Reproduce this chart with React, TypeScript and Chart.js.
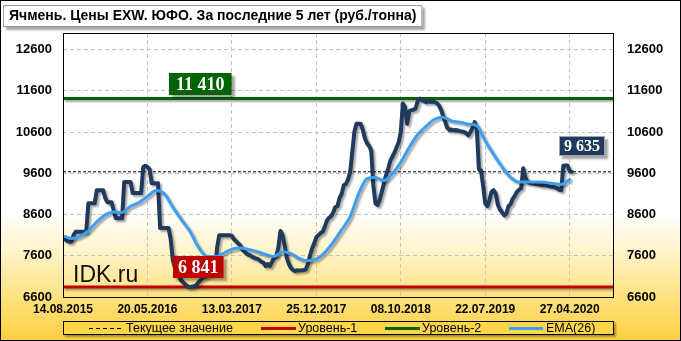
import React, { useEffect, useRef } from 'react';
import { Chart, registerables } from 'chart.js';

Chart.register(...registerables);

// ---------- DATA ----------
const TITLE = 'Ячмень. Цены EXW. ЮФО. За последние 5 лет (руб./тонна)';
const WATERMARK = 'IDK.ru';

// x axis: weeks since 14.08.2015
const xTickLabels = ['14.08.2015', '20.05.2016', '13.03.2017', '25.12.2017', '08.10.2018', '22.07.2019', '27.04.2020'];
const X_TICK_STEP = 40; // weeks between labelled dates
const X_MAX = 261;

const yTicks = [6600, 7600, 8600, 9600, 10600, 11600, 12600];
const Y_MIN = 6600;
const Y_MAX = 13000;

const LEVEL_1 = 6841;
const LEVEL_2 = 11410;
const CURRENT = 9635;

// weekly price (руб./тонна)
const price = [
  8050, 8000, 7960, 7940, 7940, 8100, 8180, 8180, 8180, 8180,
  8180, 8180, 8870, 8870, 8870, 8870, 9190, 9190, 9190, 9190,
  9000, 8900, 8900, 8900, 8700, 8510, 8510, 8510, 8510, 9390,
  9390, 9390, 9390, 9120, 9120, 9120, 9120, 9120, 9750, 9780,
  9750, 9700, 9360, 9360, 9360, 9360, 8270, 8270, 8270, 8270,
  8270, 8000, 7500, 7300, 7200, 7100, 7000, 6950, 6900, 6860,
  6841, 6850, 6860, 6880, 6950, 7000, 7060, 7080, 7100, 7130,
  7150, 7180, 7250, 7800, 8100, 8100, 8100, 8100, 8100, 8100,
  8080, 8000, 7950, 7900, 7850, 7750, 7700, 7650, 7620, 7600,
  7560, 7540, 7530, 7500, 7450, 7430, 7350, 7400, 7350, 7450,
  7550, 7580, 7800, 8200, 8100, 7850, 7550, 7400, 7300, 7250,
  7230, 7250, 7240, 7250, 7250, 7270, 7400, 7600, 7780, 7900,
  8050, 8100, 8150, 8180, 8300, 8450, 8520, 8560, 8650, 8780,
  8800, 9000, 9100, 9310, 9340, 9450, 9620, 10100, 10600, 10800,
  10800, 10800, 10650, 10450, 10330, 10260, 10150, 9300, 8870, 8830,
  8950, 9150, 9350, 9550, 9700, 9900, 10000, 10100, 10230, 10350,
  10600, 11290, 11200, 10800, 11100, 11130, 11140, 11170, 11350, 11410,
  11380, 11350, 11320, 11350, 11330, 11340, 11330, 11300, 11250, 11150,
  11000, 10850, 10700, 10650, 10660, 10640, 10650, 10640, 10620, 10610,
  10600, 10570, 10520, 10600, 10700, 10840, 10700, 9700, 9670, 9300,
  8870, 8800, 8950, 9150, 9190, 9100, 8830, 8720, 8650, 8580,
  8620, 8800, 8850, 8980, 9050, 9150, 9200, 9240, 9720, 9500,
  9390, 9370, 9360, 9350, 9340, 9330, 9320, 9310, 9310, 9300,
  9290, 9280, 9270, 9260, 9240, 9200, 9190, 9780, 9790, 9790,
  9650, 9635,
];

// EMA(26), read every 4 weeks
const EMA_STEP = 4;
const ema = [
  8080, 8020, 8070, 8200, 8420, 8590, 8660, 8650, 8800, 8890,
  9040, 9180, 9100, 8780, 8480, 8200, 7820, 7590, 7580, 7660,
  7760, 7790, 7750, 7700, 7630, 7580, 7700, 7650, 7530, 7480,
  7520, 7680, 7930, 8230, 8550, 9100, 9470, 9500, 9420, 9590,
  9870, 10230, 10540, 10740, 10910, 10960, 10870, 10840, 10790, 10750,
  10380, 10050, 9750, 9500, 9390, 9390, 9390, 9380, 9350, 9330,
  9450,
];

const LEGEND = ['Текущее значение', 'Уровень-1', 'Уровень-2', 'EMA(26)'];

// ---------- STYLE ----------
const W = 681;
const H = 341;
const FONT = 'Liberation Sans';
const C_PRICE = '#1f3a5c';
const C_EMA = '#3d9ff2';
const C_L1 = '#c00000';
const C_L2 = '#006400';

const fmt = (v: number) => String(v).replace(/\B(?=(\d{3})+(?!\d))/g, ' ');

const SHADOW_SETS = new Set([1, 2, 3, 4]);

const shadowPlugin = {
  id: 'shadowPlugin',
  beforeDatasetDraw(chart: any, args: any) {
    if (!SHADOW_SETS.has(args.index)) return;
    const ctx = chart.ctx;
    ctx.save();
    ctx.shadowColor = 'rgba(0,0,0,0.35)';
    ctx.shadowBlur = 2;
    ctx.shadowOffsetX = 2;
    ctx.shadowOffsetY = 2;
  },
  afterDatasetDraw(chart: any, args: any) {
    if (!SHADOW_SETS.has(args.index)) return;
    chart.ctx.restore();
  },
};

function box(ctx: CanvasRenderingContext2D, text: string, cx: number, bottom: number, h: number, padX: number, bg: string, font: string, border?: string) {
  ctx.save();
  ctx.font = font;
  const tw = ctx.measureText(text).width;
  const w = tw + padX * 2;
  const x = Math.round(cx - w / 2);
  const y = Math.round(bottom - h);
  ctx.shadowColor = 'rgba(0,0,0,0.35)';
  ctx.shadowBlur = 2;
  ctx.shadowOffsetX = 3;
  ctx.shadowOffsetY = 3;
  ctx.fillStyle = bg;
  ctx.fillRect(x, y, w, h);
  ctx.shadowColor = 'transparent';
  if (border) {
    ctx.strokeStyle = border;
    ctx.lineWidth = 1;
    ctx.strokeRect(x + 0.5, y + 0.5, w - 1, h - 1);
  }
  ctx.fillStyle = '#fff';
  ctx.textAlign = 'center';
  ctx.textBaseline = 'middle';
  ctx.fillText(text, x + w / 2, y + h / 2 + 1);
  ctx.restore();
}

const decorPlugin = {
  id: 'decorPlugin',
  beforeDraw(chart: any) {
    const { ctx, width, height } = chart;
    ctx.save();
    const g = ctx.createLinearGradient(0, 0, 0, height);
    g.addColorStop(0, '#ffffff');
    g.addColorStop(0.62, '#ffffff');
    g.addColorStop(0.74, '#fff3c8');
    g.addColorStop(0.88, '#ffe07a');
    g.addColorStop(1, '#ffcf40');
    ctx.fillStyle = g;
    ctx.fillRect(0, 0, width, height);
    ctx.restore();
  },
  beforeDatasetsDraw(chart: any) {
    const { ctx, chartArea } = chart;
    ctx.save();
    ctx.font = `23px ${FONT}`;
    ctx.fillStyle = '#111';
    ctx.textAlign = 'left';
    ctx.textBaseline = 'alphabetic';
    ctx.fillText(WATERMARK, chartArea.left + 10, chartArea.bottom - 15);
    ctx.restore();
  },
  afterDatasetsDraw(chart: any) {
    const { ctx, chartArea, scales } = chart;
    const xs = scales.x;
    const ys = scales.y;
    // plot frame
    ctx.save();
    ctx.strokeStyle = '#000';
    ctx.lineWidth = 1;
    ctx.strokeRect(chartArea.left + 0.5, chartArea.top + 0.5, chartArea.right - chartArea.left - 1, chartArea.bottom - chartArea.top);
    ctx.restore();
    // value boxes
    const serif = (s: number) => `bold ${s}px "Liberation Serif"`;
    box(ctx, fmt(LEVEL_2), xs.getPixelForValue(65), ys.getPixelForValue(LEVEL_2) - 4, 22, 7, C_L2, serif(18));
    box(ctx, fmt(LEVEL_1), xs.getPixelForValue(64), ys.getPixelForValue(LEVEL_1) - 9, 22, 5, C_L1, serif(18));
    const last = price.length - 1;
    box(ctx, fmt(CURRENT), xs.getPixelForValue(last) + 10, ys.getPixelForValue(CURRENT) - 16, 20, 5, C_PRICE, serif(16), '#9aa6b8');
  },
  afterDraw(chart: any) {
    const { ctx, width, height } = chart;
    // title box
    ctx.save();
    ctx.font = `bold 14px ${FONT}`;
    const tw = ctx.measureText(TITLE).width;
    ctx.shadowColor = 'rgba(0,0,0,0.35)';
    ctx.shadowBlur = 2;
    ctx.shadowOffsetX = 3;
    ctx.shadowOffsetY = 3;
    ctx.fillStyle = '#fff';
    ctx.fillRect(3, 5, tw + 12, 22);
    ctx.shadowColor = 'transparent';
    ctx.strokeStyle = '#9a9a9a';
    ctx.lineWidth = 1;
    ctx.strokeRect(3.5, 5.5, tw + 11, 21);
    ctx.fillStyle = '#000';
    ctx.textBaseline = 'middle';
    ctx.fillText(TITLE, 9, 16.5);
    ctx.restore();

    // legend
    ctx.save();
    const ly = 321, lh = 14, lx = 63, lw = 551;
    ctx.shadowColor = 'rgba(0,0,0,0.35)';
    ctx.shadowBlur = 2;
    ctx.shadowOffsetX = 2;
    ctx.shadowOffsetY = 2;
    ctx.fillStyle = '#ffd54a';
    ctx.fillRect(lx, ly, lw, lh);
    ctx.shadowColor = 'transparent';
    ctx.strokeStyle = '#000';
    ctx.lineWidth = 1;
    ctx.strokeRect(lx + 0.5, ly + 0.5, lw - 1, lh - 1);
    const cy = ly + lh / 2 + 0.5;
    ctx.font = `12.5px ${FONT}`;
    ctx.fillStyle = '#000';
    ctx.textBaseline = 'middle';
    const items = [
      { x1: 89, x2: 122, color: '#000', w: 1.2, dash: [4, 3], tx: 126 },
      { x1: 261, x2: 296, color: C_L1, w: 3, dash: [], tx: 298 },
      { x1: 385, x2: 420, color: C_L2, w: 3, dash: [], tx: 422 },
      { x1: 509, x2: 543, color: C_EMA, w: 3, dash: [], tx: 546 },
    ];
    items.forEach((it, i) => {
      ctx.save();
      ctx.strokeStyle = it.color;
      ctx.lineWidth = it.w;
      ctx.setLineDash(it.dash);
      ctx.beginPath();
      ctx.moveTo(it.x1, cy);
      ctx.lineTo(it.x2, cy);
      ctx.stroke();
      ctx.restore();
      ctx.fillText(LEGEND[i], it.tx, cy);
    });
    ctx.restore();

    // outer border
    ctx.save();
    ctx.strokeStyle = '#000';
    ctx.lineWidth = 1;
    ctx.strokeRect(0.5, 0.5, width - 1, height - 1);
    ctx.restore();
  },
};

export default function App() {
  const ref = useRef<HTMLCanvasElement>(null);
  useEffect(() => {
    const canvas = ref.current!;
    const tickFont = { family: FONT, size: 13, weight: 'bold' as const };
    const xLine = (v: number) => [{ x: 0, y: v }, { x: X_MAX, y: v }];
    const chart = new Chart(canvas, {
      type: 'line',
      data: {
        datasets: [
          {
            label: LEGEND[0], data: xLine(CURRENT), borderColor: '#000', borderWidth: 1,
            borderDash: [3, 2], pointRadius: 0, order: 5,
          },
          {
            label: LEGEND[1], data: xLine(LEVEL_1), borderColor: C_L1, borderWidth: 3,
            pointRadius: 0, order: 4,
          },
          {
            label: LEGEND[2], data: xLine(LEVEL_2), borderColor: C_L2, borderWidth: 3,
            pointRadius: 0, order: 3,
          },
          {
            label: 'Цена', data: price.map((v, i) => ({ x: i, y: v })), borderColor: C_PRICE,
            borderWidth: 4, pointRadius: 0, tension: 0, borderJoinStyle: 'round', borderCapStyle: 'round', order: 2,
          },
          {
            label: LEGEND[3], data: ema.map((v, i) => ({ x: i * EMA_STEP, y: v })), borderColor: C_EMA,
            borderWidth: 3, pointRadius: 0, tension: 0.4, cubicInterpolationMode: 'monotone',
            borderJoinStyle: 'round', borderCapStyle: 'round', order: 1,
          },
        ] as any,
      },
      options: {
        animation: false,
        responsive: false,
        devicePixelRatio: 1,
        layout: { padding: { top: 33, left: 0, right: 0, bottom: 0 } },
        plugins: { legend: { display: false }, tooltip: { enabled: false } },
        scales: {
          x: {
            type: 'linear', min: 0, max: X_MAX,
            afterBuildTicks: (s: any) => { s.ticks = xTickLabels.map((_, i) => ({ value: i * X_TICK_STEP })); },
            afterFit: (s: any) => { s.height = 44; },
            ticks: {
              autoSkip: false, maxRotation: 0, padding: 5, color: '#000',
              font: { family: FONT, size: 12, weight: 'bold' },
              callback: (v: any) => xTickLabels[Math.round(Number(v) / X_TICK_STEP)] ?? '',
            },
            grid: { color: '#c4c4c4', lineWidth: 1, drawTicks: false },
            border: { display: false, dash: [4, 3] },
          },
          y: {
            type: 'linear', position: 'left', min: Y_MIN, max: Y_MAX,
            afterBuildTicks: (s: any) => { s.ticks = yTicks.map((v) => ({ value: v })); },
            afterFit: (s: any) => { s.width = 63; },
            ticks: { padding: 11, color: '#000', font: tickFont, callback: (v: any) => String(v) },
            grid: { color: '#c4c4c4', lineWidth: 1, drawTicks: false },
            border: { display: false, dash: [4, 3] },
          },
          y2: {
            type: 'linear', position: 'right', min: Y_MIN, max: Y_MAX,
            afterBuildTicks: (s: any) => { s.ticks = yTicks.map((v) => ({ value: v })); },
            afterFit: (s: any) => { s.width = W - 614; },
            ticks: { padding: 13, color: '#000', font: tickFont, callback: (v: any) => String(v) },
            grid: { display: false, drawTicks: false },
            border: { display: false },
          },
        },
      } as any,
      plugins: [decorPlugin, shadowPlugin],
    });
    return () => chart.destroy();
  }, []);
  return (
    <div style={{ position: 'fixed', left: 0, top: 0, width: W, height: H }}>
      <canvas ref={ref} width={W} height={H} style={{ display: 'block', width: W, height: H }} />
    </div>
  );
}
